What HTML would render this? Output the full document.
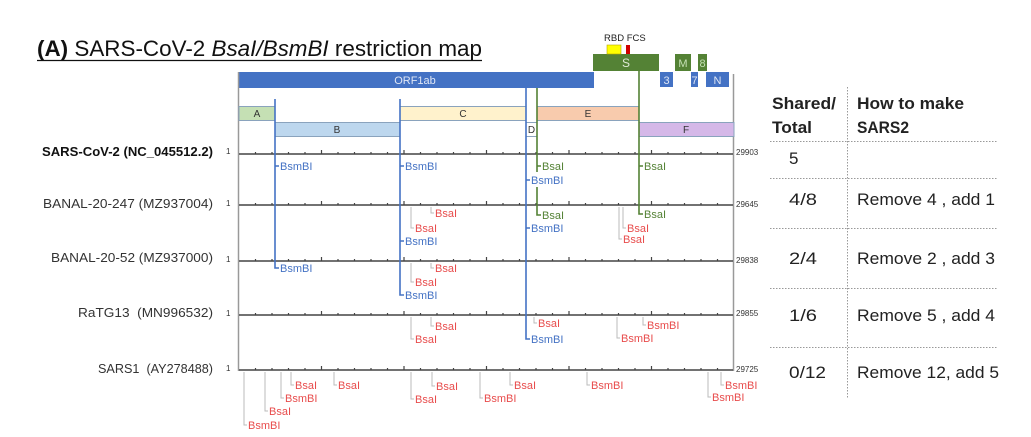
<!DOCTYPE html>
<html><head><meta charset="utf-8">
<style>
html,body{margin:0;padding:0;background:#fff;}
svg{display:block;}
text{font-family:"Liberation Sans",sans-serif;}
</style></head>
<body>
<svg width="1031" height="437" viewBox="0 0 1031 437" xmlns="http://www.w3.org/2000/svg">
<rect width="1031" height="437" fill="#fff"/>
<!-- Title -->
<text x="37" y="56" font-size="22" fill="#111" textLength="445" lengthAdjust="spacingAndGlyphs"><tspan font-weight="bold">(A)</tspan> SARS-CoV-2 <tspan font-style="italic">BsaI/BsmBI</tspan> restriction map</text>
<line x1="37" y1="60.5" x2="482" y2="60.5" stroke="#111" stroke-width="1.3"/>

<!-- gene bars -->
<rect x="239" y="72" width="355" height="16" fill="#4472C4"/>
<text x="415" y="84" font-size="11" fill="#dfe6f5" text-anchor="middle">ORF1ab</text>
<rect x="593" y="54" width="66" height="17" fill="#548235"/>
<text x="626" y="67" font-size="12" fill="#dfe9d6" text-anchor="middle">S</text>
<rect x="607" y="45" width="14" height="9" fill="#FFFF00" stroke="#b8a800" stroke-width="0.6"/>
<rect x="626" y="45" width="4" height="9" fill="#D00000"/>
<text x="604" y="41" font-size="9.5" fill="#222">RBD FCS</text>
<rect x="675" y="54" width="16" height="17" fill="#548235"/>
<text x="683" y="67" font-size="11" fill="#c5e0b4" text-anchor="middle">M</text>
<rect x="698" y="54" width="9" height="17" fill="#548235"/>
<text x="702.5" y="67" font-size="11" fill="#c5e0b4" text-anchor="middle">8</text>
<rect x="660" y="72" width="13" height="15" fill="#4472C4"/>
<text x="666.5" y="84" font-size="11" fill="#dfe6f5" text-anchor="middle">3</text>
<rect x="691" y="72" width="7" height="15" fill="#4472C4"/>
<text x="694.5" y="84" font-size="11" fill="#dfe6f5" text-anchor="middle">7</text>
<rect x="706" y="72" width="23" height="15" fill="#4472C4"/>
<text x="717.5" y="84" font-size="11" fill="#dfe6f5" text-anchor="middle">N</text>

<!-- frame borders -->
<line x1="238.5" y1="72" x2="238.5" y2="371" stroke="#999" stroke-width="1.5"/>
<line x1="733.5" y1="74" x2="733.5" y2="371" stroke="#999" stroke-width="1.5"/>

<!-- segments -->
<g stroke="#8aa3bd" stroke-width="1">
<rect x="239" y="106.5" width="36" height="14" fill="#C5E0B4"/>
<rect x="275" y="122.5" width="125" height="14" fill="#BDD7EE"/>
<rect x="400" y="106.5" width="126" height="14" fill="#FFF2CC"/>
<rect x="526" y="122.5" width="11" height="14" fill="#fff"/>
<rect x="537" y="106.5" width="102" height="14" fill="#F8CBAD"/>
<rect x="639" y="122.5" width="95" height="14" fill="#D5B8E8"/>
</g>
<g font-size="10" fill="#333" text-anchor="middle">
<text x="257" y="117">A</text>
<text x="337" y="133">B</text>
<text x="463" y="117">C</text>
<text x="531.5" y="133">D</text>
<text x="588" y="117">E</text>
<text x="686" y="133">F</text>
</g>

<!-- axes -->
<g stroke="#444">
<line x1="239" y1="154" x2="733" y2="154" stroke-width="1.6"/>
<line x1="239" y1="205" x2="733" y2="205" stroke-width="1.6"/>
<line x1="239" y1="261" x2="733" y2="261" stroke-width="1.6"/>
<line x1="239" y1="315" x2="733" y2="315" stroke-width="1.6"/>
<line x1="239" y1="370" x2="733" y2="370" stroke-width="1.6"/>
</g>
<g stroke="#444" stroke-width="1.2">
<path d="
M255.5,154v-2 M272,154v-2 M288.5,154v-2 M305,154v-2 M321.5,154v-4 M338,154v-2 M354.5,154v-2 M371,154v-2 M387.5,154v-2 M404,154v-4 M420.5,154v-2 M437,154v-2 M453.5,154v-2 M470,154v-2 M486.5,154v-4 M503,154v-2 M519.5,154v-2 M536,154v-2 M552.5,154v-2 M569,154v-4 M585.5,154v-2 M602,154v-2 M618.5,154v-2 M635,154v-2 M651.5,154v-4 M668,154v-2 M684.5,154v-2 M701,154v-2 M717.5,154v-2
M255.5,205v-2 M272,205v-2 M288.5,205v-2 M305,205v-2 M321.5,205v-4 M338,205v-2 M354.5,205v-2 M371,205v-2 M387.5,205v-2 M404,205v-4 M420.5,205v-2 M437,205v-2 M453.5,205v-2 M470,205v-2 M486.5,205v-4 M503,205v-2 M519.5,205v-2 M536,205v-2 M552.5,205v-2 M569,205v-4 M585.5,205v-2 M602,205v-2 M618.5,205v-2 M635,205v-2 M651.5,205v-4 M668,205v-2 M684.5,205v-2 M701,205v-2 M717.5,205v-2
M255.5,261v-2 M272,261v-2 M288.5,261v-2 M305,261v-2 M321.5,261v-4 M338,261v-2 M354.5,261v-2 M371,261v-2 M387.5,261v-2 M404,261v-4 M420.5,261v-2 M437,261v-2 M453.5,261v-2 M470,261v-2 M486.5,261v-4 M503,261v-2 M519.5,261v-2 M536,261v-2 M552.5,261v-2 M569,261v-4 M585.5,261v-2 M602,261v-2 M618.5,261v-2 M635,261v-2 M651.5,261v-4 M668,261v-2 M684.5,261v-2 M701,261v-2 M717.5,261v-2
M255.5,315v-2 M272,315v-2 M288.5,315v-2 M305,315v-2 M321.5,315v-4 M338,315v-2 M354.5,315v-2 M371,315v-2 M387.5,315v-2 M404,315v-4 M420.5,315v-2 M437,315v-2 M453.5,315v-2 M470,315v-2 M486.5,315v-4 M503,315v-2 M519.5,315v-2 M536,315v-2 M552.5,315v-2 M569,315v-4 M585.5,315v-2 M602,315v-2 M618.5,315v-2 M635,315v-2 M651.5,315v-4 M668,315v-2 M684.5,315v-2 M701,315v-2 M717.5,315v-2
M255.5,370v-2 M272,370v-2 M288.5,370v-2 M305,370v-2 M321.5,370v-4 M338,370v-2 M354.5,370v-2 M371,370v-2 M387.5,370v-2 M404,370v-4 M420.5,370v-2 M437,370v-2 M453.5,370v-2 M470,370v-2 M486.5,370v-4 M503,370v-2 M519.5,370v-2 M536,370v-2 M552.5,370v-2 M569,370v-4 M585.5,370v-2 M602,370v-2 M618.5,370v-2 M635,370v-2 M651.5,370v-4 M668,370v-2 M684.5,370v-2 M701,370v-2 M717.5,370v-2
" fill="none"/>
</g>

<!-- row labels -->
<g font-size="13" fill="#333" text-anchor="end">
<text x="213" y="156" font-weight="bold" fill="#111" textLength="171" lengthAdjust="spacingAndGlyphs">SARS-CoV-2 (NC_045512.2)</text>
<text x="213" y="208" textLength="170" lengthAdjust="spacingAndGlyphs">BANAL-20-247 (MZ937004)</text>
<text x="213" y="262" textLength="162" lengthAdjust="spacingAndGlyphs">BANAL-20-52 (MZ937000)</text>
<text x="213" y="317" textLength="135" lengthAdjust="spacingAndGlyphs">RaTG13&#160; (MN996532)</text>
<text x="213" y="373" textLength="115" lengthAdjust="spacingAndGlyphs">SARS1&#160; (AY278488)</text>
</g>
<g font-size="8" fill="#333">
<text x="226" y="154">1</text>
<text x="226" y="206">1</text>
<text x="226" y="262">1</text>
<text x="226" y="316">1</text>
<text x="226" y="371">1</text>
<text x="736" y="155">29903</text>
<text x="736" y="207">29645</text>
<text x="736" y="263">29838</text>
<text x="736" y="316">29855</text>
<text x="736" y="372">29725</text>
</g>

<!-- colored shared-site lines -->
<g fill="none" stroke-width="1.6">
<path d="M275,99V268H279 M275,166H279" stroke="#4472C4"/>
<path d="M400,99V295H404 M400,166H404 M400,241H404" stroke="#4472C4"/>
<path d="M526,88V339H530 M526,180H530 M526,228H530" stroke="#4472C4"/>
<path d="M537,88V172 M537,166H541 M537,187V215H541" stroke="#548235"/>
<path d="M639,71V214H643 M639,166H643" stroke="#548235"/>
</g>
<g font-size="11">
<g fill="#4472C4">
<text x="280" y="170">BsmBI</text>
<text x="280" y="272">BsmBI</text>
<text x="405" y="170">BsmBI</text>
<text x="405" y="245">BsmBI</text>
<text x="405" y="299">BsmBI</text>
<text x="531" y="184">BsmBI</text>
<text x="531" y="232">BsmBI</text>
<text x="531" y="343">BsmBI</text>
</g>
<g fill="#548235">
<text x="542" y="170">BsaI</text>
<text x="542" y="219">BsaI</text>
<text x="644" y="170">BsaI</text>
<text x="644" y="218">BsaI</text>
</g>
</g>

<!-- gray connectors for non-shared sites -->
<g fill="none" stroke="#bbb" stroke-width="1">
<path d="M411,207V228H414 M431,207V213H434 M619,207V239H622 M623,207V228H626"/>
<path d="M411,263V282H414 M431,263V268H434"/>
<path d="M411,317V339H414 M431,317V326H434 M534,317V323H537 M617,317V338H620 M643,317V325H646"/>
<path d="M244,372V425H247 M265,372V411H268 M281,372V398H284 M291,372V385H294 M334,372V385H337 M411,372V399H414 M432,372V386H435 M480,372V398H483 M510,372V385H513 M587,372V385H590 M708,372V397H711 M721,372V385H724"/>
</g>
<g font-size="11" fill="#E84C4C">
<text x="415" y="232">BsaI</text>
<text x="435" y="217">BsaI</text>
<text x="623" y="243">BsaI</text>
<text x="627" y="232">BsaI</text>
<text x="415" y="286">BsaI</text>
<text x="435" y="272">BsaI</text>
<text x="415" y="343">BsaI</text>
<text x="435" y="330">BsaI</text>
<text x="538" y="327">BsaI</text>
<text x="621" y="342">BsmBI</text>
<text x="647" y="329">BsmBI</text>
<text x="248" y="429">BsmBI</text>
<text x="269" y="415">BsaI</text>
<text x="285" y="402">BsmBI</text>
<text x="295" y="389">BsaI</text>
<text x="338" y="389">BsaI</text>
<text x="415" y="403">BsaI</text>
<text x="436" y="390">BsaI</text>
<text x="484" y="402">BsmBI</text>
<text x="514" y="389">BsaI</text>
<text x="591" y="389">BsmBI</text>
<text x="712" y="401">BsmBI</text>
<text x="725" y="389">BsmBI</text>
</g>

<!-- table -->
<line x1="847.5" y1="87" x2="847.5" y2="398" stroke="#999" stroke-width="1" stroke-dasharray="1.5,1.5"/>
<g stroke="#999" stroke-width="1" stroke-dasharray="1.5,1.5">
<line x1="770" y1="141.5" x2="997" y2="141.5"/>
<line x1="770" y1="178.5" x2="997" y2="178.5"/>
<line x1="770" y1="228.5" x2="997" y2="228.5"/>
<line x1="770" y1="288.5" x2="997" y2="288.5"/>
<line x1="770" y1="347.5" x2="997" y2="347.5"/>
</g>
<g font-size="17" fill="#222">
<text x="772" y="109" font-weight="bold" textLength="64" lengthAdjust="spacingAndGlyphs">Shared/</text>
<text x="772" y="133" font-weight="bold" textLength="40" lengthAdjust="spacingAndGlyphs">Total</text>
<text x="857" y="109" font-weight="bold" textLength="107" lengthAdjust="spacingAndGlyphs">How to make</text>
<text x="857" y="133" font-weight="bold" textLength="52" lengthAdjust="spacingAndGlyphs">SARS2</text>
<text x="789" y="164">5</text>
<text x="789" y="205" textLength="28" lengthAdjust="spacingAndGlyphs">4/8</text>
<text x="789" y="264" textLength="28" lengthAdjust="spacingAndGlyphs">2/4</text>
<text x="789" y="321" textLength="28" lengthAdjust="spacingAndGlyphs">1/6</text>
<text x="789" y="378" textLength="37" lengthAdjust="spacingAndGlyphs">0/12</text>
<text x="857" y="205" textLength="138" lengthAdjust="spacingAndGlyphs">Remove 4 , add 1</text>
<text x="857" y="264" textLength="138" lengthAdjust="spacingAndGlyphs">Remove 2 , add 3</text>
<text x="857" y="321" textLength="138" lengthAdjust="spacingAndGlyphs">Remove 5 , add 4</text>
<text x="857" y="378" textLength="142" lengthAdjust="spacingAndGlyphs">Remove 12, add 5</text>
</g>
</svg>
</body></html>
